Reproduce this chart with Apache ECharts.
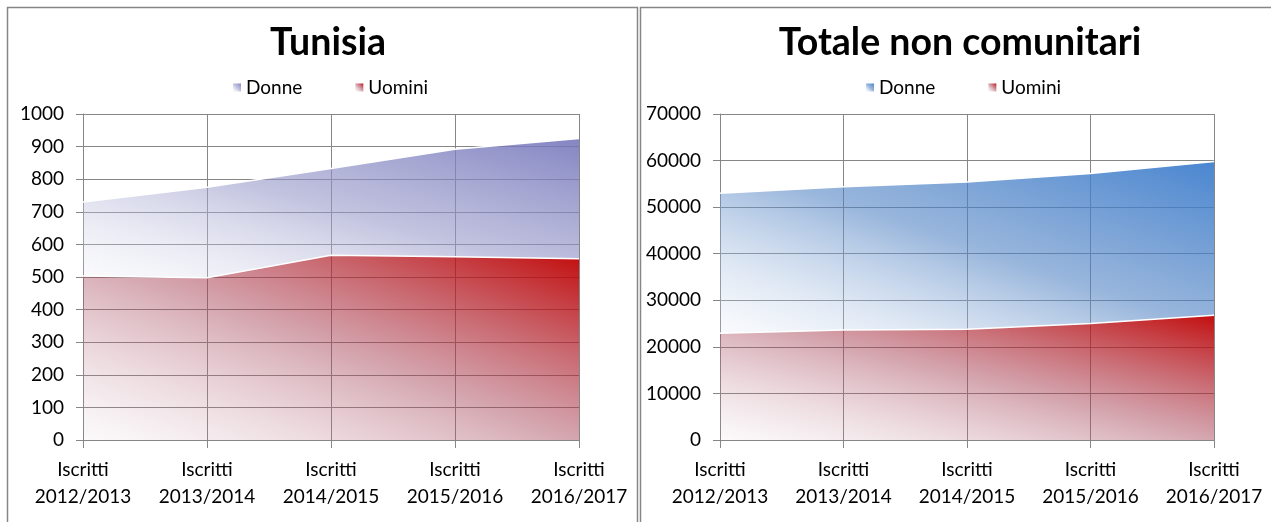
<!DOCTYPE html>
<html>
<head>
<meta charset="utf-8">
<script src="https://cdn.jsdelivr.net/npm/echarts@6/dist/echarts.min.js"></script>
<style>
  html, body { margin: 0; padding: 0; background: #fff; }
  #chart { width: 1271px; height: 522px; }
</style>
</head>
<body>
<div id="chart"></div>
<script>
// categories (x axis)
const categories = [
  'Iscritti\n2012/2013',
  'Iscritti\n2013/2014',
  'Iscritti\n2014/2015',
  'Iscritti\n2015/2016',
  'Iscritti\n2016/2017'
];

// Tunisia
const tunisiaUomini = [503, 498, 567, 562, 556];
const tunisiaDonne = [227, 277, 266, 330, 369];
const tunisiaTicks = [0, 100, 200, 300, 400, 500, 600, 700, 800, 900, 1000];

// Totale non comunitari
const totaleUomini = [22900, 23600, 23800, 25000, 26800];
const totaleDonne = [30100, 30800, 31600, 32200, 33000];
const totaleTicks = [0, 10000, 20000, 30000, 40000, 50000, 60000, 70000];

const GRAY = '#868686';
const FONT = 'Lato';
const GRID_W = 496;
const GRID_H = 326;

const redStops = [
  { offset: 0, color: 'rgba(200,160,175,0.06)' },
  { offset: 0.5, color: 'rgba(165,65,85,0.47)' },
  { offset: 1, color: 'rgba(192,0,0,0.95)' }
];
const lilacStops = [
  { offset: 0, color: 'rgba(230,232,242,0.2)' },
  { offset: 0.5, color: 'rgba(150,152,200,0.58)' },
  { offset: 1, color: 'rgba(115,116,186,0.88)' }
];
const blueStops = [
  { offset: 0, color: 'rgba(225,232,244,0.2)' },
  { offset: 0.5, color: 'rgba(80,130,195,0.58)' },
  { offset: 1, color: 'rgba(60,125,205,0.93)' }
];

// diagonal gradient whose bands run along the top-left/bottom-right diagonal
// of the shape's box (like an Excel fill stretched with the shape)
function shapeGradient(w, h, stops) {
  const s = w * w + h * h;
  return new echarts.graphic.LinearGradient(0, 1, 2 * h * h / s, 1 - 2 * w * w / s, stops);
}

function iconGradient(stops) {
  return new echarts.graphic.LinearGradient(0, 1, 1, 0, stops);
}

function boxHeight(lower, upper, axisMax) {
  const top = Math.max(...upper);
  const bottom = lower ? Math.min(...lower) : 0;
  return (top - bottom) / axisMax * GRID_H;
}

function sumArr(a, b) { return a.map((v, i) => v + b[i]); }

function areaSeries(name, data, idx, fill) {
  return {
    name: name,
    type: 'line',
    data: data,
    xAxisIndex: idx,
    yAxisIndex: idx,
    stack: 'st' + idx,
    symbol: 'none',
    lineStyle: { color: '#fff', width: 1.5 },
    itemStyle: { color: fill },
    areaStyle: { color: fill, opacity: 1 },
    emphasis: { disabled: true }
  };
}

function xAx(idx) {
  return {
    gridIndex: idx,
    type: 'category',
    data: categories,
    boundaryGap: false,
    axisLine: { lineStyle: { color: GRAY, width: 1 } },
    axisTick: { length: 8, lineStyle: { color: GRAY } },
    splitLine: { show: true, lineStyle: { color: GRAY, width: 1 } },
    axisLabel: {
      interval: 0, color: '#000', fontFamily: FONT, fontSize: 19,
      lineHeight: 27, margin: 16
    }
  };
}

function yAx(idx, ticks) {
  return {
    gridIndex: idx,
    type: 'value',
    min: ticks[0],
    max: ticks[ticks.length - 1],
    interval: ticks[1] - ticks[0],
    axisLine: { show: true, lineStyle: { color: GRAY, width: 1 } },
    axisTick: { show: true, length: 7, lineStyle: { color: GRAY } },
    splitLine: { show: true, lineStyle: { color: GRAY, width: 1 } },
    axisLabel: {
      color: '#000', fontFamily: FONT, fontSize: 19, margin: 19,
      formatter: v => String(v)
    }
  };
}

function legendAt(left, donneStops) {
  return {
    left: left,
    top: 78,
    padding: 0,
    icon: 'rect',
    itemWidth: 8,
    itemHeight: 8,
    itemGap: 53,
    selectedMode: false,
    textStyle: { color: '#000', fontFamily: FONT, fontSize: 19 },
    data: [
      { name: 'Donne', itemStyle: { color: iconGradient(donneStops) } },
      { name: 'Uomini', itemStyle: { color: iconGradient(redStops) } }
    ]
  };
}

const tMax = tunisiaTicks[tunisiaTicks.length - 1];
const nMax = totaleTicks[totaleTicks.length - 1];

const tunisiaRed = shapeGradient(GRID_W, boxHeight(null, tunisiaUomini, tMax), redStops);
const tunisiaLilac = shapeGradient(GRID_W,
  boxHeight(tunisiaUomini, sumArr(tunisiaUomini, tunisiaDonne), tMax), lilacStops);
const totaleRed = shapeGradient(GRID_W, boxHeight(null, totaleUomini, nMax), redStops);
const totaleBlue = shapeGradient(GRID_W,
  boxHeight(totaleUomini, sumArr(totaleUomini, totaleDonne), nMax), blueStops);

const chart = echarts.init(document.getElementById('chart'));

const titleStyle = { fontFamily: FONT, fontWeight: 'bold', fontSize: 37.5, color: '#000' };

const option = {
  animation: false,
  title: [
    { text: 'Tunisia', left: 328, textAlign: 'center', top: 24, padding: 0, textStyle: titleStyle },
    { text: 'Totale non comunitari', left: 960, textAlign: 'center', top: 24, padding: 0, textStyle: titleStyle }
  ],
  legend: [legendAt(233, lilacStops), legendAt(866, blueStops)],
  grid: [
    { left: 83, top: 114, width: GRID_W, height: GRID_H },
    { left: 720, top: 114, width: GRID_W - 2, height: GRID_H }
  ],
  xAxis: [xAx(0), xAx(1)],
  yAxis: [yAx(0, tunisiaTicks), yAx(1, totaleTicks)],
  series: [
    areaSeries('Uomini', tunisiaUomini, 0, tunisiaRed),
    areaSeries('Donne', tunisiaDonne, 0, tunisiaLilac),
    areaSeries('Uomini', totaleUomini, 1, totaleRed),
    areaSeries('Donne', totaleDonne, 1, totaleBlue)
  ],
  graphic: [
    {
      type: 'rect', silent: true,
      shape: { x: 7.5, y: 7.5, width: 630, height: 540 },
      style: { fill: 'none', stroke: GRAY, lineWidth: 1.5 }
    },
    {
      type: 'rect', silent: true,
      shape: { x: 640.5, y: 7.5, width: 660, height: 540 },
      style: { fill: 'none', stroke: GRAY, lineWidth: 1.5 }
    }
  ]
};

chart.setOption(option);
</script>
</body>
</html>
